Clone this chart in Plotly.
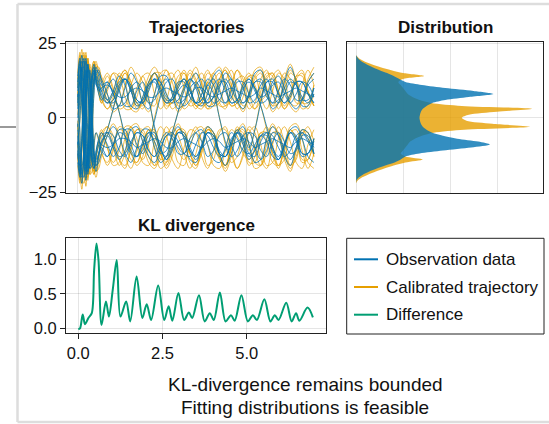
import plotly.graph_objects as go

W, H = 549, 424


def fx(px):
    return px / W


def fy(py):
    return 1 - py / H


FONT = "Liberation Sans, Arial, Helvetica, sans-serif"
BLUE = "#0072B2"
ORANGE = "#E69F00"
GREEN = "#009E73"

# ---- time grid of the simulated runs (fine during the transient, coarser after) ----
t_transient = [0.0, 0.06, 0.12, 0.18, 0.24, 0.30, 0.36, 0.42, 0.48, 0.54, 0.62]
t_settled = [0.7, 0.875, 1.05, 1.225, 1.4, 1.575, 1.75, 1.925, 2.1, 2.275, 2.45,
             2.625, 2.8, 2.975, 3.15, 3.325, 3.5, 3.675, 3.85, 4.025, 4.2, 4.375,
             4.55, 4.725, 4.9, 5.075, 5.25, 5.425, 5.6, 5.775, 5.95, 6.125, 6.3,
             6.475, 6.65, 6.825, 7.0]
t_runs = t_transient + t_settled

# ---- observed trajectories ----
observation_runs = [
    [3, 15, 21, 10, -12, -19, -8, 4, 14, 17, 14,
     11, 12, 8, 4, 5, 10, 12, 9, 5, 6, 11, 13, 9, 5, 6, 10, 12, 9, 5, 7, 12, 12, 7, 5, 9, 13, 10, 5, 6, 11, 12, 8, 5, 8, 12, 11, 7],
    [-6, -17, -22, -9, 11, 18, 9, -5, -15, -18, -13,
     -10, -13, -9, -4, -4, -9, -13, -11, -6, -5, -10, -14, -11, -5, -5, -10, -13, -10, -5, -6, -12, -13, -8, -4, -8, -13, -11, -6, -5, -10, -14, -10, -5, -6, -12, -12, -8],
    [10, 18, 12, -6, -17, -13, 2, 12, 16, 12, 9,
     10, 11, 9, 7, 7, 9, 10, 9, 7, 7, 9, 10, 9, 8, 7, 8, 10, 10, 8, 7, 8, 9, 10, 9, 8, 7, 8, 10, 9, 8, 7, 8, 9, 10, 9, 8, 7],
    [-12, -19, -10, 7, 16, 12, -3, -13, -15, -11, -8,
     -9, -10, -9, -7, -7, -8, -10, -9, -8, -7, -8, -10, -10, -8, -7, -8, -9, -10, -8, -7, -8, -10, -9, -8, -7, -8, -10, -9, -8, -7, -8, -9, -10, -8, -7, -8, -9],
    [14, 20, 8, -14, -21, -10, 6, 15, 18, 13, 8,
     6, 10, 13, 9, 4, 4, 9, 12, 6, -3, -10, -14, -10, -5, -6, -11, -14, -10, -5, -7, -12, -13, -8, -5, -9, -14, -11, -6, -6, -11, -14, -9, -5, -8, -13, -12, -7],
    [-15, -20, -6, 13, 20, 10, -6, -15, -17, -12, -7,
     -5, -9, -13, -10, -4, -4, -9, -12, -8, -1, 7, 12, 13, 8, 4, 6, 11, 13, 9, 5, 6, 11, 13, 9, 5, 7, 12, 12, 7, 5, 9, 13, 11, 6, 6, 11, 13],
    [0, 9, 19, 16, -2, -16, -14, 0, 12, 16, 15,
     13, 8, 3, 4, 10, 15, 12, 5, 3, 8, 14, 14, 8, 3, 5, 12, 15, 10, 4, 4, 10, 15, 13, 6, 3, 8, 15, 16, 9, 3, 5, 12, 17, 12, 4, 4, 10],
    [8, -4, -18, -20, -5, 12, 16, 4, -10, -16, -15,
     -12, -6, -3, -6, -12, -15, -10, -4, -4, -10, -15, -13, -6, -3, -7, -14, -15, -9, -3, -5, -12, -16, -12, -5, -3, -9, -15, -14, -7, -3, -6, -13, -16, -10, -4, -5, -12],
    [-3, 6, 17, 19, 5, -12, -17, -6, 8, 15, 16,
     12, 6, 5, 9, 13, 11, 6, 5, 10, 13, 10, 6, 6, 10, 13, 10, 5, 6, 11, 8, 0, -8, -13, -11, -6, -5, -10, -14, -11, -5, -6, -11, -14, -10, -5, -7, -12],
    [-9, -1, 13, 20, 12, -6, -17, -16, -9, -5, -7,
     -11, -13, -9, -5, -6, -11, -13, -9, -5, -6, -11, -13, -9, -5, -6, -11, -13, -9, -5, -6, -11, -13, -9, -5, -6, -10, -4, 5, 12, 13, 8, 5, 8, 12, 12, 8, 5],
    [7, 12, 4, -11, -18, -9, 5, 13, 15, 11, 10,
     8, 5, 6, 11, 13, 9, 5, 6, 11, 12, 8, 5, 7, 12, 12, 7, 5, 8, 13, 11, 6, 5, 9, 13, 10, 5, 6, 11, 13, 8, 5, 8, 12, 11, 6, 6, 10],
    [-2, -11, -19, -14, 3, 17, 14, -2, -12, -14, -12,
     -8, -5, -6, -11, -13, -9, -5, -6, -11, -13, -8, -5, -7, -12, -12, -7, -5, -8, -13, -11, -6, -5, -9, -13, -10, -5, -6, -11, -13, -8, -5, -8, -12, -11, -6, -6, -10],
    [12, 19, 9, -9, -19, -12, 4, 14, 17, 13, 10,
     7, 5, 8, 12, 13, 10, 6, 5, 9, 13, 12, 8, 5, 6, 10, 13, 11, 7, 5, 7, 11, 13, 10, 6, 5, 8, 12, 13, 9, 5, 6, 10, 13, 11, 7, 5, 8],
    [-11, -18, -8, 10, 19, 11, -5, -14, -17, -13, -9,
     -6, -5, -9, -13, -12, -8, -5, -6, -11, -13, -10, -6, -5, -8, -12, -13, -9, -5, -6, -10, -13, -11, -7, -5, -7, -12, -13, -8, -5, -6, -10, -13, -11, -6, -5, -8, -12],
    [5, 13, 17, 6, -10, -17, -9, 3, 12, 14, 11,
     9, 12, 8, 2, -6, -12, -13, -8, -5, -8, -12, -11, -5, 2, 9, 13, 10, 5, 6, 11, 13, 9, 5, 6, 11, 13, 9, 4, -3, -10, -13, -9, -5, -7, -12, -12, -7],
    [-4, -14, -20, -12, 5, 16, 12, -2, -12, -15, -12,
     -9, -4, 3, 10, 13, 9, 4, 6, 11, 13, 9, 5, 6, 11, 13, 9, 5, 6, 11, 13, 9, 5, 7, 12, 12, 8, 5, 7, 12, 12, 8, 5, 7, 12, 12, 8, 5],
    [9, 17, 15, 0, -15, -18, -5, 9, 16, 15, 12,
     9, 6, 9, 14, 11, 4, 3, 7, 12, 15, 12, 7, 6, 9, 11, 9, 5, 4, 8, 14, 16, 11, 5, 6, 10, 12, 10, 7, 8, 12, 14, 10, 5, 3, 6, 12, 15],
    [-8, -16, -16, -3, 13, 18, 6, -8, -16, -16, -12,
     -8, -6, -10, -14, -11, -4, -3, -8, -13, -15, -11, -6, -6, -10, -12, -9, -5, -4, -9, -14, -15, -10, -5, -7, -11, -12, -9, -6, -8, -13, -14, -9, -4, -3, -7, -13, -15],
]

# ---- calibrated model trajectories ----
calibrated_runs = [
    [4, 16, 23, 11, -13, -21, -9, 5, 16, 19, 15,
     12, 15, 10, 3, 4, 11, 15, 12, 5, 4, 11, 16, 12, 4, 4, 11, 15, 12, 4, 5, 13, 16, 9, 3, 7, 14, 14, 7, 3, 9, 15, 13, 5, 4, 11, 16, 11],
    [-5, -18, -24, -10, 12, 20, 10, -6, -17, -20, -15,
     -12, -16, -11, -3, -4, -11, -16, -13, -5, -4, -11, -17, -13, -4, -4, -12, -16, -12, -4, -5, -13, -17, -10, -3, -7, -15, -15, -7, -3, -9, -16, -14, -5, -4, -11, -17, -12],
    [11, 20, 13, -8, -20, -15, 3, 14, 18, 14, 9,
     5, 9, 15, 14, 7, 3, 7, 14, 15, 8, 3, 6, 13, 16, 10, 4, 5, 12, 16, 11, 4, 4, 11, 16, 13, 5, 3, 9, 15, 14, 7, 3, 7, 14, 16, 9, 4],
    [-13, -21, -11, 8, 19, 14, -4, -15, -18, -13, -8,
     -5, -10, -16, -15, -7, -3, -7, -15, -16, -8, -3, -6, -14, -17, -10, -4, -5, -13, -17, -11, -4, -4, -12, -17, -13, -5, -3, -9, -16, -15, -7, -3, -8, -15, -17, -9, -4],
    [15, 22, 9, -15, -23, -11, 7, 17, 19, 14, 8,
     5, 11, 15, 10, 3, 3, 10, 14, 7, -4, -12, -16, -11, -4, -5, -12, -16, -11, -4, -6, -13, -16, -9, -4, -9, -16, -13, -5, -5, -12, -17, -10, -4, -7, -15, -14, -7],
    [-16, -22, -7, 14, 22, 11, -7, -17, -19, -13, -7,
     -4, -10, -15, -11, -3, -3, -10, -14, -9, 0, 8, 14, 15, 9, 3, 5, 12, 15, 10, 4, 5, 12, 16, 10, 4, 6, 13, 15, 8, 4, 9, 15, 13, 5, 5, 12, 15],
    [1, 10, 21, 18, -3, -18, -16, 1, 14, 18, 16,
     14, 8, 2, 4, 11, 17, 13, 5, 2, 8, 15, 16, 8, 2, 5, 13, 17, 11, 3, 4, 11, 17, 14, 6, 2, 8, 16, 17, 9, 2, 5, 13, 18, 12, 3, 4, 11],
    [9, -5, -20, -22, -6, 13, 18, 5, -11, -18, -17,
     -13, -6, -2, -6, -13, -17, -11, -4, -3, -10, -17, -15, -6, -2, -7, -15, -17, -10, -3, -5, -13, -18, -13, -5, -2, -9, -17, -16, -7, -2, -6, -14, -18, -11, -4, -5, -13],
    [-4, 7, 19, 21, 6, -13, -19, -7, 9, 17, 17,
     13, 6, 4, 10, 15, 12, 5, 4, 11, 15, 11, 5, 5, 11, 15, 11, 4, 5, 12, 9, 0, -9, -15, -13, -6, -4, -11, -16, -12, -5, -5, -12, -16, -11, -4, -7, -13],
    [-10, -1, 14, 22, 13, -7, -19, -18, -10, -5, -8,
     -12, -15, -10, -4, -5, -12, -15, -10, -4, -5, -12, -15, -10, -4, -5, -12, -15, -10, -4, -5, -12, -16, -10, -4, -5, -11, -4, 6, 14, 15, 9, 4, 8, 14, 14, 8, 4],
    [8, 14, 3, -13, -20, -10, 6, 15, 17, 12, 10,
     7, 3, 6, 13, 16, 10, 4, 5, 12, 15, 9, 3, 7, 14, 15, 7, 3, 8, 15, 13, 5, 3, 10, 16, 11, 3, 5, 13, 16, 9, 3, 8, 15, 13, 5, 5, 11],
    [-1, -12, -21, -15, 4, 19, 15, -3, -14, -16, -13,
     -7, -3, -6, -14, -17, -10, -4, -5, -13, -16, -9, -3, -7, -15, -16, -7, -3, -8, -16, -14, -5, -3, -10, -17, -12, -3, -5, -14, -17, -9, -3, -8, -16, -14, -5, -5, -12],
    [13, 21, 10, -10, -21, -13, 5, 16, 19, 14, 10,
     6, 3, 7, 13, 16, 12, 5, 3, 9, 15, 15, 8, 3, 5, 11, 16, 13, 6, 3, 7, 13, 16, 11, 5, 3, 8, 14, 16, 10, 4, 5, 11, 16, 13, 6, 3, 8],
    [-12, -20, -9, 11, 21, 12, -6, -16, -19, -14, -9,
     -5, -3, -8, -14, -16, -11, -4, -4, -10, -16, -14, -7, -3, -6, -12, -17, -12, -5, -3, -8, -14, -16, -10, -4, -4, -9, -15, -16, -9, -3, -5, -12, -17, -13, -6, -3, -8],
    [6, 15, 19, 7, -11, -19, -10, 3, 13, 16, 12,
     10, 14, 9, 2, -7, -14, -15, -9, -4, -8, -14, -13, -5, 2, 10, 15, 12, 4, 5, 12, 15, 10, 4, 5, 12, 15, 10, 4, -4, -12, -16, -11, -4, -7, -14, -14, -7],
    [-3, -15, -22, -13, 6, 18, 13, -2, -13, -17, -13,
     -10, -4, 3, 11, 15, 10, 3, 5, 12, 15, 10, 4, 5, 12, 16, 10, 4, 5, 12, 15, 10, 4, 6, 13, 14, 8, 3, 6, 13, 15, 9, 3, 6, 13, 15, 9, 4],
    [10, 19, 16, 0, -17, -20, -6, 10, 18, 17, 13,
     10, 5, 9, 15, 12, 3, 2, 7, 14, 17, 13, 6, 5, 10, 13, 10, 4, 3, 9, 15, 17, 11, 4, 5, 11, 14, 11, 6, 8, 14, 16, 10, 4, 2, 6, 13, 17],
    [-9, -18, -17, -3, 14, 20, 7, -9, -18, -18, -13,
     -9, -5, -10, -16, -12, -3, -2, -8, -15, -17, -12, -5, -5, -11, -14, -10, -4, -3, -9, -16, -17, -11, -4, -6, -12, -14, -10, -5, -8, -15, -16, -9, -3, -2, -7, -15, -17],
]

# ---- state distributions (density, in grid units) ----
dist_y = [-22, -21, -20, -19, -18, -17, -16, -15, -14, -13, -12, -11, -10, -9, -8,
          -7, -6, -5, -4, -3, -2, -1, 0, 1, 2, 3, 4, 5, 6, 7, 8, 9, 10, 11, 12,
          13, 14, 15, 16, 17, 18, 19, 20, 21]
dist_calibrated = [0.0, 0.04, 0.13, 0.26, 0.42, 0.6, 0.8, 1.05, 1.42, 1.05, 0.95,
                   1.0, 1.05, 1.1, 1.15, 1.25, 1.4, 1.65, 2.3, 3.7, 2.9, 2.35, 2.25,
                   2.4, 3.0, 3.75, 2.25, 1.6, 1.35, 1.2, 1.1, 1.05, 1.0, 0.95, 0.9,
                   1.0, 1.45, 1.0, 0.75, 0.52, 0.33, 0.17, 0.06, 0.0]
dist_observed = [0.0, 0.01, 0.06, 0.15, 0.28, 0.44, 0.62, 0.82, 0.95, 1.05, 1.35,
                 1.85, 2.45, 2.85, 2.6, 2.15, 1.85, 1.62, 1.5, 1.42, 1.38, 1.36, 1.35,
                 1.36, 1.38, 1.42, 1.5, 1.62, 1.9, 2.4, 2.92, 2.5, 1.9, 1.4, 1.05,
                 0.92, 0.8, 0.66, 0.5, 0.35, 0.22, 0.11, 0.04, 0.0]

# ---- KL divergence between the two ensembles over time ----
kl_t = [0.0, 0.05, 0.13, 0.2, 0.3, 0.4, 0.47, 0.54, 0.6, 0.69, 0.82, 0.91, 1.02,
        1.14, 1.25, 1.42, 1.54, 1.73, 1.9, 2.03, 2.16, 2.37, 2.55, 2.68, 2.79,
        2.97, 3.14, 3.28, 3.38, 3.58, 3.75, 3.9, 4.02, 4.2, 4.37, 4.53, 4.64,
        4.84, 5.03, 5.18, 5.3, 5.52, 5.7, 5.83, 5.94, 6.17, 6.33, 6.46, 6.56,
        6.8, 6.96]
kl_v = [-0.01, 0.0, 0.2, 0.06, 0.15, 0.22, 0.85, 1.23, 0.98, 0.05, 0.39, 0.17,
        0.55, 0.99, 0.17, 0.39, 0.10, 0.75, 0.15, 0.35, 0.12, 0.62, 0.12, 0.32,
        0.11, 0.51, 0.12, 0.23, 0.15, 0.48, 0.10, 0.22, 0.12, 0.52, 0.10, 0.19,
        0.11, 0.48, 0.10, 0.19, 0.12, 0.42, 0.10, 0.19, 0.12, 0.37, 0.10, 0.22,
        0.11, 0.30, 0.16]

legend_labels = ["Observation data", "Calibrated trajectory", "Difference"]
caption_lines = ["KL-divergence remains bounded", "Fitting distributions is feasible"]

for run in observation_runs + calibrated_runs:
    assert len(run) == len(t_runs), len(run)
assert len(kl_t) == len(kl_v)
assert len(dist_y) == len(dist_calibrated) == len(dist_observed)

fig = go.Figure()

# trajectories: calibrated first, observations drawn over them
for run in calibrated_runs:
    fig.add_trace(go.Scatter(x=t_runs, y=run, mode="lines", xaxis="x", yaxis="y",
                             line=dict(color="rgba(230,159,0,0.7)", width=1,
                                       shape="spline", smoothing=1.0),
                             hoverinfo="skip"))
for run in observation_runs:
    fig.add_trace(go.Scatter(x=t_runs, y=run, mode="lines", xaxis="x", yaxis="y",
                             line=dict(color="rgba(0,114,178,0.8)", width=1,
                                       shape="spline", smoothing=1.0),
                             hoverinfo="skip"))

# horizontal densities
fig.add_trace(go.Scatter(x=dist_calibrated, y=dist_y, mode="lines", xaxis="x2", yaxis="y2",
                         fill="tozerox", fillcolor="rgba(230,159,0,0.8)",
                         line=dict(width=0, shape="spline", smoothing=0.8, color="rgba(0,0,0,0)"),
                         hoverinfo="skip"))
fig.add_trace(go.Scatter(x=dist_observed, y=dist_y, mode="lines", xaxis="x2", yaxis="y2",
                         fill="tozerox", fillcolor="rgba(0,114,178,0.8)",
                         line=dict(width=0, shape="spline", smoothing=0.8, color="rgba(0,0,0,0)"),
                         hoverinfo="skip"))

# KL divergence
fig.add_trace(go.Scatter(x=kl_t, y=kl_v, mode="lines", xaxis="x3", yaxis="y3",
                         line=dict(color=GREEN, width=2, shape="spline", smoothing=0.9),
                         hoverinfo="skip"))

GRID = "rgba(0,0,0,0.10)"
SPINE = "#222222"
tickfont = dict(family=FONT, size=16.5, color="#111111")

common = dict(showline=True, mirror=True, linecolor=SPINE, linewidth=1,
              showgrid=True, gridcolor=GRID, gridwidth=1, zeroline=False,
              tickfont=tickfont, tickcolor=SPINE, automargin=False)

y_traj = [-25.15, 25.35]

fig.update_layout(
    width=W, height=H,
    margin=dict(l=0, r=0, t=0, b=0, pad=0, autoexpand=False),
    paper_bgcolor="white", plot_bgcolor="white",
    showlegend=False,
    xaxis=dict(domain=[fx(66), fx(325.7)], range=[-0.35, 7.35], tickvals=[0, 2.5, 5],
               showticklabels=False, ticks="", anchor="y", **common),
    yaxis=dict(domain=[fy(192.7), fy(42.3)], range=y_traj, tickvals=[-25, 0, 25],
               ticktext=["\u221225", "0", "25"], ticks="outside", ticklen=5,
               anchor="x", **common),
    xaxis2=dict(domain=[fx(346.7), fx(543.3)], range=[-0.2, 3.985], tickvals=[0, 1, 2, 3],
                showticklabels=False, ticks="", anchor="y2", **common),
    yaxis2=dict(domain=[fy(192.7), fy(42.3)], range=y_traj, tickvals=[-25, 0, 25],
                showticklabels=False, ticks="", anchor="x2", **common),
    xaxis3=dict(domain=[fx(66), fx(325.7)], range=[-0.365, 7.34], tickvals=[0, 2.5, 5],
                ticktext=["0.0", "2.5", "5.0"], ticks="outside", ticklen=5,
                anchor="y3", **common),
    yaxis3=dict(domain=[fy(333.3), fy(238.3)], range=[-0.072, 1.304], tickvals=[0, 0.5, 1],
                ticktext=["0.0", "0.5", "1.0"], ticks="outside", ticklen=5,
                anchor="x3", **common),
)

# panel titles
titles = [("Trajectories", 196, 28), ("Distribution", 445, 28), ("KL divergence", 196, 225)]
for text, px, py in titles:
    fig.add_annotation(x=fx(px), y=fy(py), xref="paper", yref="paper", text=f"<b>{text}</b>",
                       showarrow=False, xanchor="center", yanchor="middle",
                       font=dict(family=FONT, size=17, color="#111111"))

# caption
for text, py in zip(caption_lines, [384, 407.5]):
    fig.add_annotation(x=fx(305), y=fy(py), xref="paper", yref="paper", text=text,
                       showarrow=False, xanchor="center", yanchor="middle",
                       font=dict(family=FONT, size=19, color="#111111"))

# legend box
fig.add_shape(type="rect", xref="paper", yref="paper",
              x0=fx(346.7), x1=fx(544), y0=fy(334), y1=fy(238.3),
              line=dict(color=SPINE, width=1), fillcolor="white", layer="below")
for label, color, py in zip(legend_labels, [BLUE, ORANGE, GREEN], [259.3, 287, 314.7]):
    fig.add_shape(type="line", xref="paper", yref="paper",
                  x0=fx(354), x1=fx(378), y0=fy(py), y1=fy(py),
                  line=dict(color=color, width=2))
    fig.add_annotation(x=fx(384), y=fy(py), xref="paper", yref="paper", text=label,
                       showarrow=False, xanchor="left", yanchor="middle",
                       font=dict(family=FONT, size=17, color="#111111"))

# page frame around the figure
FRAME = "#dddddd"
fig.add_shape(type="line", xref="paper", yref="paper", x0=fx(17.5), x1=1.0,
              y0=fy(4), y1=fy(4), line=dict(color=FRAME, width=2.5))
fig.add_shape(type="line", xref="paper", yref="paper", x0=fx(17.5), x1=fx(17.5),
              y0=fy(4), y1=fy(422), line=dict(color=FRAME, width=2.5))
fig.add_shape(type="line", xref="paper", yref="paper", x0=fx(17.5), x1=1.0,
              y0=fy(422), y1=fy(422), line=dict(color=FRAME, width=2.5))
fig.add_shape(type="line", xref="paper", yref="paper", x0=0, x1=fx(16),
              y0=fy(127), y1=fy(127), line=dict(color="#999999", width=2))

fig.write_html("out.html")
